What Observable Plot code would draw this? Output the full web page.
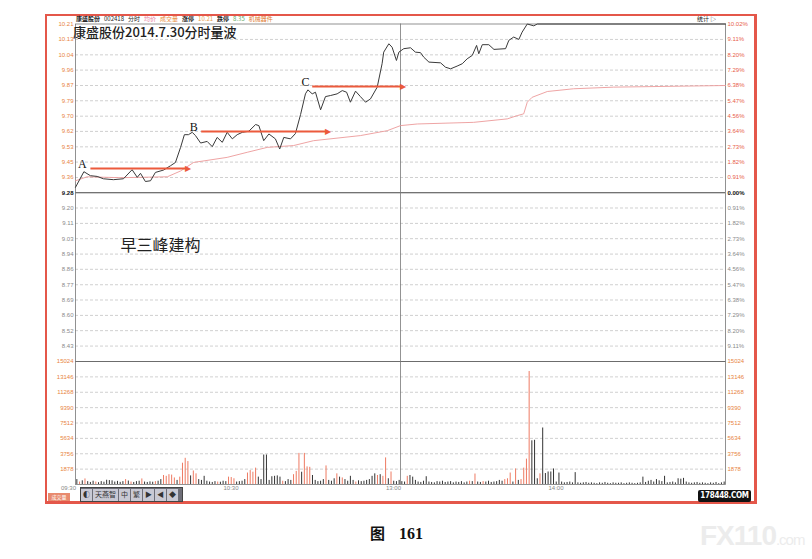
<!DOCTYPE html>
<html>
<head>
<meta charset="utf-8">
<script src="https://cdn.jsdelivr.net/npm/d3@7"></script>
<script src="https://cdn.jsdelivr.net/npm/@observablehq/plot@0.6"></script>
<style>
  body { margin: 0; background: #fff; font-family: "Liberation Sans", "Noto Sans CJK SC", sans-serif; }
  #page { position: relative; width: 812px; height: 559px; overflow: hidden; background: #fff; }
  .abs { position: absolute; }
  #frame { left: 45px; top: 14px; width: 712px; height: 490px; box-sizing: border-box; border: 2px solid #e4574a; border-right-width: 3px; border-bottom-width: 3px; }
  #head { left: 76px; top: 14px; font-size: 6px; color: #222; white-space: nowrap; font-family: "Noto Sans CJK SC"; }
  #head span { margin-right: 4px; }
  #title { left: 73px; top: 22px; font-size: 13px; font-weight: 500; color: #222; font-family: "Noto Sans CJK SC"; white-space: nowrap; }
  #stat { left: 697px; top: 14px; font-size: 6px; color: #222; font-family: "Noto Sans CJK SC"; }
  #tool { left: 80px; top: 487px; height: 13px; width: 101px; background: #6e6e78; border: 1px solid #444; display: flex; gap: 1px; }
  #tool div { background: #c9c9d4; font-size: 7px; line-height: 11px; padding: 0 2px; margin-top: 1px; color: #333; font-family: "Noto Sans CJK SC"; }
  #vtab { left: 48px; top: 493px; width: 22px; height: 8px; background: #e88a6e; font-size: 5px; color: #fff; line-height: 8px; text-align: center; font-family: "Noto Sans CJK SC"; }
  #logo { left: 698px; top: 490px; width: 53px; height: 12px; background: #111; color: #fff; font-size: 8px; font-weight: bold; line-height: 12px; text-align: center; font-family: "DejaVu Sans Condensed", "DejaVu Sans"; border-radius: 2px; letter-spacing: -0.3px; white-space: nowrap; }
  #cap { left: 370px; top: 522px; font-size: 15px; font-weight: bold; color: #111; white-space: nowrap; }
  #cap .z { font-family: "Noto Sans CJK SC"; margin-right: 14px; }
  #cap .n { font-family: "Liberation Serif"; font-size: 16px; }
  #wm { left: 700px; top: 520px; font-size: 28px; color: #ececec; font-family: "Liberation Sans"; font-weight: bold; letter-spacing: -1px; white-space: nowrap; }
  #wm small { font-size: 15px; font-weight: normal; }
  svg { overflow: visible; }
</style>
</head>
<body>
<div id="page">
  <div id="wm" class="abs">FX110<small>.com</small></div>
  <div id="frame" class="abs"></div>
  <div id="price" class="abs" style="left:0;top:0"></div>
  <div id="vol" class="abs" style="left:0;top:361px"></div>
  <div id="head" class="abs"><span style="font-weight:bold">康盛股份</span><span>002418</span><span>分时</span><span style="color:#e87a9a">均价</span><span style="color:#e88a3a">成交量</span><span style="font-weight:bold">涨停</span><span style="color:#e8a050">10.21</span><span style="font-weight:bold">跌停</span><span style="color:#6a6">8.35</span><span style="color:#e07a30">机械器件</span></div>
  <div id="stat" class="abs">统计 ▷</div>
  <div id="title" class="abs">康盛股份2014.7.30分时量波</div>
  <div id="vtab" class="abs">成交量</div>
  <div id="tool" class="abs"><div>◐</div><div>天燕智</div><div>中</div><div>繁</div><div>▶</div><div>◀</div><div>◆</div></div>
  <div id="logo" class="abs">178448.COM</div>
  <div id="cap" class="abs"><span class="z">图</span><span class="n">161</span></div>
</div>
<script>
// 分时价格 (分钟, 价格)
const priceMin = [0, 3.1, 5.5, 8, 10.3, 14, 17.7, 20.9, 22.8, 24, 25.8, 27.7, 29.5, 32.5, 35.1, 36.9, 38.8, 40.2, 41.7, 43.1,
  44.3, 46.2, 48.6, 50.5, 52.3, 54.2, 56, 57.9, 59.7, 61.6, 64, 66.5, 67.7, 69.5, 71.4, 73.8, 75.4, 76.9, 79.4, 81.2,
  83.1, 84.9, 85.8, 87.4, 88.6, 90.5, 92.3, 94.2, 96.6, 98.5, 100.1, 101.5, 103.4, 105.2, 107.1, 108.9, 111.4, 113.2, 113.8, 115.7,
  116.9, 118.5, 119.4, 121.2, 123.7, 125.5, 127.4, 128.6, 130.5, 134.8, 136.6, 138.5, 140.9, 142.8, 144.6, 146.5, 148.1, 148.9, 150.2, 152.6,
  154.5, 158.8, 160, 161.8, 163.7, 164.9, 166.8, 169.2, 170.5, 240]
const priceVal = [9.31, 9.396, 9.374, 9.37, 9.357, 9.352, 9.357, 9.407, 9.365, 9.387, 9.342, 9.346, 9.392, 9.405, 9.429, 9.447, 9.53, 9.60, 9.60, 9.613,
  9.595, 9.554, 9.563, 9.534, 9.585, 9.558, 9.613, 9.577, 9.60, 9.613, 9.619, 9.656, 9.65, 9.567, 9.604, 9.577, 9.521, 9.585, 9.577, 9.606,
  9.711, 9.825, 9.847, 9.825, 9.834, 9.737, 9.81, 9.816, 9.825, 9.843, 9.834, 9.779, 9.84, 9.81, 9.779, 9.797, 9.862, 9.991, 10.055, 10.101,
  10.082, 10.009, 10.055, 10.074, 10.079, 10.055, 10.052, 10.027, 10.0, 9.996, 9.972, 9.963, 9.978, 9.991, 10.018, 10.037, 10.092, 10.046, 10.096, 10.096,
  10.07, 10.074, 10.12, 10.138, 10.125, 10.165, 10.21, 10.20, 10.21, 10.21]

// 均价线
const avgMin = [0, 4.3, 16.6, 33.9, 38.8, 43.6, 56, 63.4, 70.8, 80.5, 87.9, 105.2, 115.1, 120, 126.2, 147, 159.4, 163.1, 165.5, 166.8, 168.6, 174.2, 183.9, 198.7, 240]
const avgVal = [9.346, 9.368, 9.363, 9.368, 9.40, 9.447, 9.475, 9.503, 9.53, 9.54, 9.567, 9.595, 9.622, 9.65, 9.659, 9.668, 9.687, 9.705, 9.715, 9.779, 9.806, 9.838, 9.853, 9.862, 9.871]

// 每分钟成交量
const volume = [
  600, 300, 450, 680, 350, 250, 400, 300, 220, 350,
  280, 520, 480, 450, 300, 380, 260, 350, 600, 420,
  300, 250, 350, 400, 680, 300, 250, 320, 280, 350,
  400, 600, 1100, 1000, 1200, 1150, 800, 500, 900, 2600,
  3200, 2800, 1050, 1650, 1300, 600, 500, 1000, 400, 300,
  250, 350, 300, 280, 400, 350, 900, 850, 700, 300,
  350, 400, 600, 1400, 1700, 1500, 2000, 900, 600, 3600,
  3600, 500, 950, 1000, 1050, 900, 400, 350, 600, 500,
  1200, 1600, 3800, 1500, 3800, 2150, 2100, 1100, 500, 350,
  400, 600, 2270, 500, 400, 700, 1300, 900, 800, 600,
  400, 1000, 500, 300, 450, 350, 400, 500, 600, 1000,
  1300, 1100, 1200, 1000, 3250, 700, 1530, 400, 350, 500,
  350, 300, 1000, 1100, 900, 500, 300, 250, 400, 950,
  300, 250, 200, 350, 300, 400, 250, 300, 350, 200,
  300, 250, 350, 200, 300, 400, 350, 1280, 300, 250,
  350, 300, 400, 250, 300, 350, 500, 400, 600, 700,
  1400, 300, 1900, 500, 600, 2000, 3100, 13800, 5340, 5400,
  700, 1300, 6900, 1340, 1530, 1530, 1900, 300, 1400, 300,
  200, 250, 300, 200, 1450, 200, 150, 200, 250, 150,
  200, 150, 100, 200, 150, 250, 150, 100, 200, 150,
  150, 200, 100, 150, 200, 150, 100, 150, 200, 900,
  250, 400, 500, 300, 600, 450, 350, 1000, 200, 250,
  300, 200, 700, 650, 750, 300, 200, 150, 200, 250,
  150, 200, 150, 100, 200, 150, 250, 100, 200, 300
]
// 红柱 (上涨) 的分钟
const upMinutes = [1, 3, 7, 18, 20, 24, 29, 32, 33, 34, 35, 36, 38, 39, 40, 41, 43, 44, 52, 56, 57, 58, 63, 64, 65, 66, 76, 80, 81, 82, 84, 85, 86,
  92, 96, 98, 103, 111, 113, 114, 116, 122, 145, 147, 150, 158, 159, 160, 162, 164, 165, 166, 167, 171]

// 坐标刻度
const priceUp = [10.21, 10.125, 10.04, 9.956, 9.871, 9.787, 9.702, 9.618, 9.533, 9.449, 9.364]
const priceUpLbl = ["10.21", "10.13", "10.04", "9.96", "9.87", "9.79", "9.70", "9.62", "9.53", "9.45", "9.36"]
const pctUpLbl = ["10.02%", "9.11%", "8.20%", "7.29%", "6.38%", "5.47%", "4.56%", "3.64%", "2.73%", "1.82%", "0.91%"]
const preClose = 9.28
const priceDown = [9.196, 9.111, 9.027, 8.942, 8.858, 8.773, 8.689, 8.604, 8.520, 8.435]
const priceDownLbl = ["9.20", "9.11", "9.03", "8.94", "8.86", "8.77", "8.69", "8.60", "8.52", "8.43"]
const pctDownLbl = ["0.91%", "1.82%", "2.73%", "3.64%", "4.56%", "5.47%", "6.38%", "7.29%", "8.20%", "9.11%"]
const volTicks = [15024, 13146, 11268, 9390, 7512, 5634, 3756, 1878]
const timeTicks = [0, 60, 120, 180]
const timeLbl = ["09:30", "10:30", "13:00", "14:00"]

// 标注 A B C
const marks = ["A", "B", "C"]
const markMin = [2.5, 43.7, 84.9]
const markPrice = [9.44, 9.64, 9.89]
const arrowFrom = [5.5, 46.4, 87.4]
const arrowTo = [41.2, 92.9, 120.6]
const arrowPrice = [9.414, 9.618, 9.866]
const note = "早三峰建构"

const W = 812, ML = 75, MR = 87
const gridGray = "#c4c4c4"
const up = "#e8843e"
const lbl = {fontSize: 6, fontFamily: "Liberation Sans"}

const priceLine = priceMin.map((m, i) => ({m, p: priceVal[i]}))
const avgLine = avgMin.map((m, i) => ({m, p: avgVal[i]}))
const upRows = priceUp.map((p, i) => ({p, l: priceUpLbl[i], r: pctUpLbl[i]}))
const downRows = priceDown.map((p, i) => ({p, l: priceDownLbl[i], r: pctDownLbl[i]}))
const arrows = marks.map((k, i) => ({k, m: markMin[i], p: markPrice[i], x1: arrowFrom[i], x2: arrowTo[i], y: arrowPrice[i]}))

const pricePlot = Plot.plot({
  width: W, height: 361,
  marginLeft: ML, marginRight: MR, marginTop: 23.5, marginBottom: 0,
  style: {background: "transparent", overflow: "visible"},
  x: {domain: [0, 240], axis: null},
  y: {domain: [8.35, 10.21], axis: null},
  marks: [
    Plot.ruleY([...priceUp.slice(1), ...priceDown], {stroke: gridGray, strokeDasharray: "3,2", strokeWidth: 0.8}),
    Plot.ruleY([preClose], {stroke: "#444", strokeWidth: 1}),
    Plot.ruleX([120], {stroke: "#777", strokeWidth: 0.8}),
    Plot.frame({stroke: "#777", strokeWidth: 0.8}),
    Plot.line(avgLine, {x: "m", y: "p", stroke: "#ec9a9a", strokeWidth: 0.9}),
    Plot.line(priceLine, {x: "m", y: "p", stroke: "#3a3a3a", strokeWidth: 1}),
    Plot.link(arrows, {x1: "x1", x2: "x2", y1: "y", y2: "y", stroke: "#ec5a3c", strokeWidth: 2}),
    Plot.text(arrows, {x: "x2", y: "y", text: () => "▶", fill: "#ec5a3c", fontSize: 8, textAnchor: "middle", dx: 1}),
    Plot.text(arrows, {x: "m", y: "p", text: "k", fontSize: 12, fontFamily: "Liberation Serif", fill: "#111"}),
    Plot.text([note], {x: 16.6, y: 8.987, text: d => d, textAnchor: "start", fontSize: 16, fontFamily: "Noto Sans CJK SC", fill: "#222"}),
    Plot.text(upRows, {y: "p", text: "l", frameAnchor: "left", textAnchor: "end", dx: -2, fill: up, ...lbl}),
    Plot.text(upRows, {y: "p", text: "r", frameAnchor: "right", textAnchor: "start", dx: 2, fill: "#e8604a", ...lbl}),
    Plot.text(downRows, {y: "p", text: "l", frameAnchor: "left", textAnchor: "end", dx: -2, fill: "#8a8a8a", ...lbl}),
    Plot.text(downRows, {y: "p", text: "r", frameAnchor: "right", textAnchor: "start", dx: 2, fill: "#8a8a8a", ...lbl}),
    Plot.text([preClose], {y: d => d, text: () => "9.28", frameAnchor: "left", textAnchor: "end", dx: -2, fill: "#111", fontWeight: "bold", ...lbl}),
    Plot.text([preClose], {y: d => d, text: () => "0.00%", frameAnchor: "right", textAnchor: "start", dx: 2, fill: "#111", fontWeight: "bold", ...lbl})
  ]
})
document.getElementById("price").append(pricePlot)

const upSet = new Set(upMinutes)
const bars = volume.map((v, m) => ({m: m + 0.5, v, up: upSet.has(m)}))

const volPlot = Plot.plot({
  width: W, height: 140,
  marginLeft: ML, marginRight: MR, marginTop: 0, marginBottom: 17,
  style: {background: "transparent", overflow: "visible"},
  x: {domain: [0, 240], axis: null},
  y: {domain: [0, 15024], axis: null},
  marks: [
    Plot.ruleY(volTicks.slice(1), {stroke: gridGray, strokeDasharray: "3,2", strokeWidth: 0.8}),
    Plot.ruleY([15024], {stroke: "#444", strokeWidth: 1}),
    Plot.ruleX([120], {stroke: "#777", strokeWidth: 0.8}),
    Plot.frame({stroke: "#777", strokeWidth: 0.8}),
    Plot.ruleX(bars.filter(d => !d.up), {x: "m", y1: 0, y2: "v", stroke: "#333", strokeWidth: 1}),
    Plot.ruleX(bars.filter(d => d.up), {x: "m", y1: 0, y2: "v", stroke: "#ee7a62", strokeWidth: 1}),
    Plot.text(volTicks, {y: d => d, text: d => String(d), frameAnchor: "left", textAnchor: "end", dx: -2, fill: up, ...lbl}),
    Plot.text(volTicks, {y: d => d, text: d => String(d), frameAnchor: "right", textAnchor: "start", dx: 2, fill: up, ...lbl}),
    Plot.text(timeTicks, {x: d => d, text: (d, i) => timeLbl[i], frameAnchor: "bottom", dy: 5, dx: -7, fill: "#888", ...lbl})
  ]
})
document.getElementById("vol").append(volPlot)
</script>
</body>
</html>
